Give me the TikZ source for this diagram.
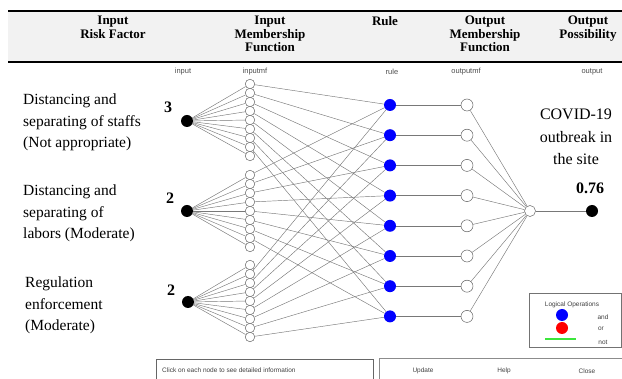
\documentclass[tikz,border=0pt]{standalone}
\usepackage{fontspec}
\setmainfont{Liberation Serif}
\setsansfont{Liberation Sans}
\usetikzlibrary{backgrounds}
\definecolor{hdrgray}{RGB}{242,242,242}
\definecolor{edgegray}{RGB}{120,120,120}
\definecolor{legendgreen}{RGB}{60,230,60}
\tikzset{
 edge/.style={draw=edgegray, line width=0.45pt},
 mfnode/.style={circle, draw=black!60, fill=white, line width=0.5pt, inner sep=0pt, minimum size=9.5pt},
 rulenode/.style={circle, fill=blue, inner sep=0pt, minimum size=12pt},
 omfnode/.style={circle, draw=black!60, fill=white, line width=0.5pt, inner sep=0pt, minimum size=12pt},
 innode/.style={circle, fill=black, inner sep=0pt, minimum size=12pt},
 hdr/.style={font=\fontsize{13}{13.5}\selectfont\bfseries, align=center, anchor=north, inner sep=0pt},
 collbl/.style={font=\sffamily\fontsize{7.5}{8}\selectfont, text=black!70, inner sep=0pt},
 factor/.style={font=\fontsize{15.5}{21.5}\selectfont, align=left, anchor=north west, inner sep=0pt},
 num/.style={font=\fontsize{16}{18}\selectfont\bfseries, inner sep=0pt},
 ui/.style={font=\sffamily\fontsize{6.5}{8}\selectfont, text=black!75, inner sep=0pt},
}
\begin{document}
\begin{tikzpicture}[x=1pt,y=-1pt]
\useasboundingbox (0,0) rectangle (622,379);
% header
\fill[hdrgray] (8,11) rectangle (622,62);
\draw[line width=2.2pt] (8,11) -- (622,11);
\draw[line width=2.2pt] (8,62) -- (622,62);
\node[hdr] (h1) at (113,16) {Input\\Risk Factor};
\node[hdr] (h2) at (270,16) {Input\\Membership\\Function};
\node[hdr] (h3) at (385,16) {Rule};
\node[hdr] (h4) at (485,16) {Output\\Membership\\Function};
\node[hdr] (h5) at (588,16) {Output\\Possibility};
% column labels
\node[collbl] (c1) at (183,72) {input};
\node[collbl] (c2) at (255,72) {inputmf};
\node[collbl] (c3) at (392,72) {rule};
\node[collbl] (c4) at (466,72) {outputmf};
\node[collbl] (c5) at (592,72) {output};
% factor texts
\node[factor] (f1) at (23,94) {Distancing and\\separating of staffs\\(Not appropriate)};
\node[factor] (f2) at (23,185) {Distancing and\\separating of\\labors (Moderate)};
\node[factor] (f3) at (25,277) {Regulation\\enforcement\\(Moderate)};
\node[num] (n1) at (168,107) {3};
\node[num] (n2) at (170,198) {2};
\node[num] (n3) at (171,290) {2};
% inputs
\node[innode] (in1) at (187,121) {};
\node[innode] (in2) at (187,211) {};
\node[innode] (in3) at (188,302) {};
% membership functions
\foreach \g/\c in {1/120,2/211,3/301}
  \foreach \k in {1,...,9}
    \node[mfnode] (mf\g-\k) at (250,{\c+(\k-5)*9}) {};
% rules and output mfs
\foreach \r in {1,...,8} {
  \node[rulenode] (rule\r) at (390,{105+(\r-1)*30.2}) {};
  \node[omfnode] (omf\r) at (467,{105+(\r-1)*30.2}) {};
}
\node[omfnode, minimum size=11pt] (out) at (530,211) {};
\node[innode] (res) at (592,211) {};
\node[font=\fontsize{16}{22.5}\selectfont, align=center, inner sep=0pt] (covid) at (576,137) {COVID-19\\outbreak in\\the site};
\node[num] (val) at (590,188) {0.76};
% edges
\begin{scope}[on background layer]
\foreach \g in {1,2,3}
  \foreach \k in {1,...,9}
    \draw[edge] (in\g) -- (mf\g-\k);
\foreach \r in {1,...,8} {
  \pgfmathtruncatemacro\kk{\r+1}
  \draw[edge] (mf1-\r) -- (rule\r);
  \draw[edge] (mf2-\r) -- (rule\r);
  \draw[edge] (mf3-\kk) -- (rule\r);
  \draw[edge] (rule\r) -- (omf\r);
  \draw[edge] (omf\r) -- (out);
}
\draw[edge] (out) -- (res);
\end{scope}
% legend
\draw[black!55, line width=0.6pt] (529,293) rectangle (621,347);
\node[ui] (lg) at (572,305) {Logical Operations};
\node[rulenode] (lb) at (562,315) {};
\node[rulenode, fill=red] (lr) at (562,328) {};
\coordinate (gl1) at (545,339);
\coordinate (gl2) at (576,339);
\draw[legendgreen, line width=1.3pt] (gl1) -- (gl2);
\node[ui] (land) at (603,317) {and};
\node[ui] (lor) at (601,329) {or};
\node[ui] (lnot) at (603,342) {not};
% bottom bar
\draw[black!60, line width=0.6pt] (156,380) -- (156,359) -- (373,359) -- (373,380);
\draw[black!45, line width=1pt] (379,380) -- (379,359) -- (623,359);
\node[ui, anchor=west] (info) at (162,370) {Click on each node to see detailed information};
\node[ui] (bu) at (423,371) {Update};
\node[ui] (bh) at (504,371) {Help};
\node[ui] (bc) at (587,371) {Close};
\end{tikzpicture}
\end{document}
